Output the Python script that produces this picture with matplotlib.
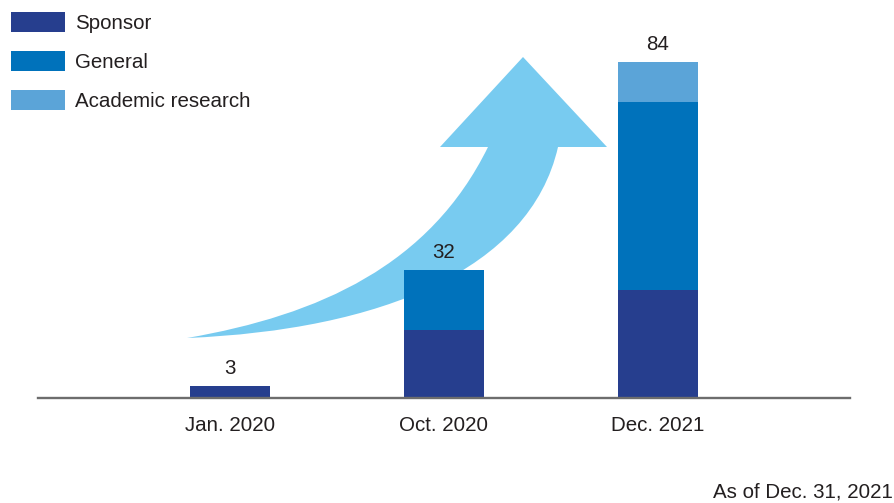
import matplotlib
matplotlib.use('Agg')
import matplotlib.pyplot as plt
from matplotlib.path import Path
from matplotlib.patches import PathPatch
import numpy as np

plt.rcParams['font.family'] = ['Liberation Sans', 'DejaVu Sans']

periods = ['Jan. 2020', 'Oct. 2020', 'Dec. 2021']
sponsor = [3, 17, 27]
general = [0, 15, 47]
academic = [0, 0, 10]
totals = [3, 32, 84]

c_sponsor = '#263e8e'
c_general = '#0072bb'
c_academic = '#5ba4d8'
c_arrow = '#78cbf0'
c_text = '#231f20'
fs = 14.8

W, H = 894, 503
fig = plt.figure(figsize=(W / 100, H / 100), dpi=100)
ax = fig.add_axes([38 / W, (H - 398) / H, (850 - 38) / W, 398 / H])

# curved growth arrow, laid out in pixel space (y from top)
def px(x, y):
    return (x, H - y)

verts = [
    px(187, 338),
    px(320, 315), px(430, 265), px(488, 147),   # upper edge of shaft
    px(440, 147), px(523, 57), px(607, 147),     # head
    px(558, 147),
    px(530, 270), px(380, 330), px(187, 338),    # lower edge of shaft
    px(187, 338),
]
codes = [Path.MOVETO,
         Path.CURVE4, Path.CURVE4, Path.CURVE4,
         Path.LINETO, Path.LINETO, Path.LINETO,
         Path.LINETO,
         Path.CURVE4, Path.CURVE4, Path.CURVE4,
         Path.CLOSEPOLY]
arrow = PathPatch(Path(verts, codes), facecolor=c_arrow, edgecolor='none',
                  transform=matplotlib.transforms.IdentityTransform(), zorder=0)
fig.patches.append(arrow)
ax.set_zorder(1)
ax.patch.set_visible(False)

x = np.arange(len(periods))
w = 0.374
b1 = ax.bar(x, sponsor, w, color=c_sponsor, label='Sponsor')
b2 = ax.bar(x, general, w, bottom=sponsor, color=c_general, label='General')
b3 = ax.bar(x, academic, w, bottom=np.add(sponsor, general), color=c_academic,
            label='Academic research')

for xi, t in zip(x, totals):
    ax.annotate(str(t), (xi, t), xytext=(0, 8.4), textcoords='offset points',
                ha='center', va='baseline', fontsize=fs, color=c_text)

ax.set_xlim(-0.9, 2.9)
ax.set_ylim(0, 99.5)
ax.set_xticks(x)
ax.set_xticklabels(periods, fontsize=fs, color=c_text)
ax.tick_params(axis='x', length=0, pad=13)
ax.set_yticks([])
for s in ['top', 'left', 'right']:
    ax.spines[s].set_visible(False)
ax.spines['bottom'].set_color('#6d6d6d')
ax.spines['bottom'].set_linewidth(1.7)

fig.legend(handles=[b1, b2, b3], loc='upper left',
           bbox_to_anchor=(11 / W, 1 - 12 / H), bbox_transform=fig.transFigure,
           frameon=False, fontsize=fs, handlelength=2.62, handleheight=1.15,
           handletextpad=0.48, labelspacing=0.86, borderpad=0, borderaxespad=0,
           labelcolor=c_text)

fig.text(893 / W, (H - 498) / H, 'As of Dec. 31, 2021', ha='right', va='baseline',
         fontsize=fs, color=c_text)

fig.savefig('out.png', dpi=100)
